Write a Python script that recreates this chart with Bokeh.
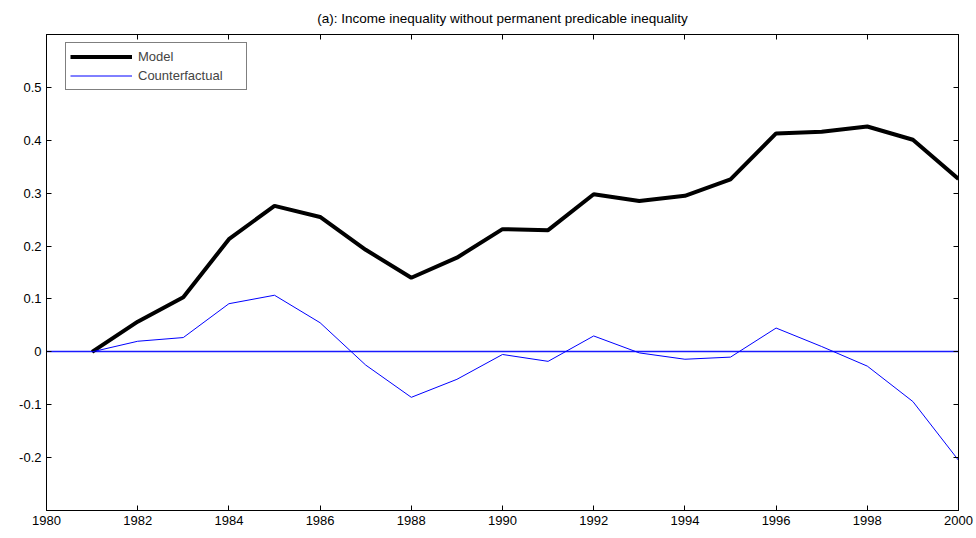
from bokeh.plotting import figure
from bokeh.models import LinearAxis, FixedTicker, Legend, LegendItem, Range1d
from bokeh.embed import file_html
from bokeh.resources import INLINE

years = list(range(1981, 2001))
model = [0.0, 0.057, 0.103, 0.213, 0.276, 0.255, 0.193, 0.140, 0.178, 0.232,
         0.230, 0.298, 0.285, 0.295, 0.326, 0.413, 0.416, 0.426, 0.401, 0.327]
counterfactual = [0.0, 0.020, 0.027, 0.091, 0.107, 0.055, -0.025, -0.086, -0.052, -0.005,
                  -0.018, 0.030, -0.002, -0.014, -0.010, 0.045, 0.010, -0.027, -0.094, -0.205]
zero_level = [0.0]
x_ticks = [1980, 1982, 1984, 1986, 1988, 1990, 1992, 1994, 1996, 1998, 2000]
x_tick_labels = [str(v) for v in x_ticks]
y_ticks = [-0.2, -0.1, 0, 0.1, 0.2, 0.3, 0.4, 0.5]
y_tick_labels = ["-0.2", "-0.1", "0", "0.1", "0.2", "0.3", "0.4", "0.5"]
title_text = "(a): Income inequality without permanent predicable inequality"

FONT = "Liberation Sans"

p = figure(width=976, height=538, output_backend="svg", toolbar_location=None,
           x_range=Range1d(1980, 2000), y_range=Range1d(-0.3, 0.6),
           min_border_left=46, min_border_right=18, min_border_top=33, min_border_bottom=28)
p.title.text = title_text
p.title.align = "center"
p.title.text_font = FONT
p.title.text_font_size = "13.5px"
p.title.text_font_style = "normal"
p.title.text_color = "black"
p.title.standoff = 17
p.xgrid.visible = False
p.ygrid.visible = False
p.outline_line_color = "black"
p.background_fill_color = "white"
p.border_fill_color = "white"

def style_axis(ax, labels=True):
    ax.major_tick_in = 5
    ax.major_tick_out = 0
    ax.minor_tick_in = 0
    ax.minor_tick_out = 0
    ax.axis_line_color = "black"
    ax.major_tick_line_color = "black"
    ax.major_label_text_font = FONT
    ax.major_label_text_font_size = "13px"
    ax.major_label_text_color = "black"
    ax.major_label_standoff = 5
    if not labels:
        ax.major_label_text_alpha = 0
        ax.major_label_text_font_size = "1px"
        ax.major_label_standoff = 0

xa = p.xaxis[0]
xa.ticker = FixedTicker(ticks=x_ticks)
xa.major_label_overrides = dict(zip(x_ticks, x_tick_labels))
style_axis(xa)
ya = p.yaxis[0]
ya.ticker = FixedTicker(ticks=y_ticks)
ya.major_label_overrides = dict(zip(y_ticks, y_tick_labels))
style_axis(ya)

top = LinearAxis(ticker=FixedTicker(ticks=x_ticks))
style_axis(top, labels=False)
p.add_layout(top, "above")
right = LinearAxis(ticker=FixedTicker(ticks=y_ticks))
style_axis(right, labels=False)
p.add_layout(right, "right")

p.hspan(y=zero_level, line_color="#1a1aff", line_width=1.5)

r1 = p.line(years, model, line_color="black", line_width=4)
r2 = p.line(years, counterfactual, line_color="#0000ff", line_width=1)

legend = Legend(items=[LegendItem(label="Model", renderers=[r1]),
                       LegendItem(label="Counterfactual", renderers=[r2])],
                location=(19, 420))
legend.border_line_color = "black"
legend.border_line_width = 1
legend.background_fill_alpha = 1
legend.padding = 4
legend.spacing = 0
legend.margin = 0
legend.label_height = 19
legend.glyph_height = 19
legend.glyph_width = 62
legend.label_width = 104
legend.label_standoff = 6
legend.label_text_font = FONT
legend.label_text_font_size = "13px"
p.add_layout(legend, "center")

open("out.html", "w").write(file_html(p, INLINE))
